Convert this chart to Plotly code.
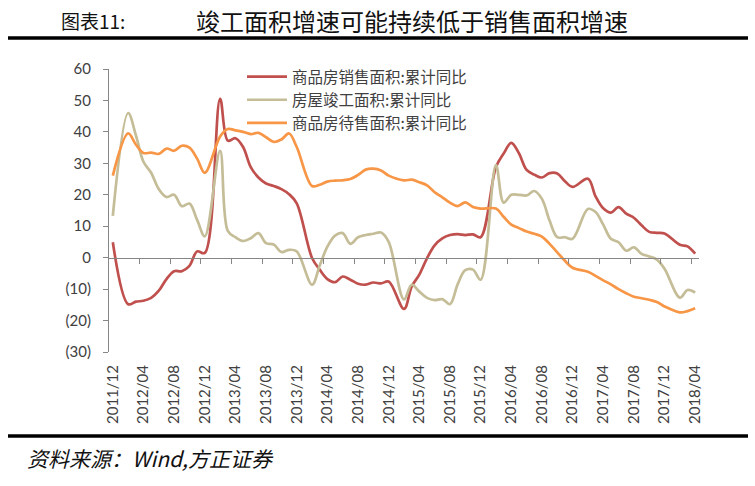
import plotly.graph_objects as go

# ---------------- data ----------------
dates = ["2011/12",
         "2012/02", "2012/03", "2012/04", "2012/05", "2012/06", "2012/07", "2012/08", "2012/09", "2012/10", "2012/11", "2012/12",
         "2013/02", "2013/03", "2013/04", "2013/05", "2013/06", "2013/07", "2013/08", "2013/09", "2013/10", "2013/11", "2013/12",
         "2014/02", "2014/03", "2014/04", "2014/05", "2014/06", "2014/07", "2014/08", "2014/09", "2014/10", "2014/11", "2014/12",
         "2015/02", "2015/03", "2015/04", "2015/05", "2015/06", "2015/07", "2015/08", "2015/09", "2015/10", "2015/11", "2015/12",
         "2016/02", "2016/03", "2016/04", "2016/05", "2016/06", "2016/07", "2016/08", "2016/09", "2016/10", "2016/11", "2016/12",
         "2017/02", "2017/03", "2017/04", "2017/05", "2017/06", "2017/07", "2017/08", "2017/09", "2017/10", "2017/11", "2017/12",
         "2018/02", "2018/03", "2018/04"]

sales_area = [4.9,
              -14.8, -14.0, -13.7, -12.8, -10.5, -6.8, -4.3, -4.3, -2.6, 2.0, 1.5,
              50.5, 37.2, 38.0, 35.2, 28.8, 25.5, 23.6, 22.8, 21.8, 20.2, 17.3,
              -0.1, -3.8, -6.8, -7.8, -6.0, -7.0, -8.3, -8.6, -7.9, -8.2, -7.6,
              -16.3, -9.2, -5.4, -0.2, 3.9, 6.1, 7.2, 7.5, 7.2, 7.4, 6.5,
              28.8, 33.1, 36.5, 33.2, 27.9, 26.4, 25.5, 26.9, 26.8, 24.3, 22.5,
              25.1, 19.5, 15.7, 14.3, 16.1, 14.0, 12.7, 10.3, 8.2, 7.9, 7.7,
              4.1, 3.6, 1.3]

completed_area = [13.3,
                  46.0, 39.0, 30.5, 27.0, 21.8, 19.3, 20.0, 16.4, 17.2, 12.0, 6.8,
                  34.0, 8.5, 6.5, 5.3, 6.2, 7.8, 4.6, 4.2, 1.8, 2.5, 2.0,
                  -8.6, -2.5, 3.5, 7.0, 7.8, 4.4, 6.5, 7.2, 7.6, 8.0, 5.0,
                  -13.3, -8.6, -10.8, -12.8, -13.5, -13.2, -14.8, -8.5, -4.0, -3.8, -7.0,
                  29.4, 17.5, 20.0, 20.0, 19.8, 21.2, 18.7, 11.8, 6.5, 6.5, 6.0,
                  15.5, 14.5, 10.5, 6.0, 4.9, 2.2, 3.3, 1.2, 0.4, -0.6, -3.5,
                  -12.7, -10.3, -11.1]

inventory_area = [26.1,
                  39.5, 36.0, 33.3, 33.4, 33.0, 34.7, 34.0, 35.6, 35.0, 31.5, 27.0,
                  38.5, 40.9, 40.5, 40.0, 39.3, 39.7, 38.3, 36.8, 37.6, 39.5, 35.2,
                  22.8, 23.2, 24.2, 24.5, 24.6, 25.0, 26.3, 28.0, 28.3, 27.7, 26.1,
                  24.6, 24.8, 24.0, 23.0, 20.8, 19.2, 17.5, 16.4, 17.6, 16.1, 15.6,
                  15.6, 13.0, 10.5, 9.4, 8.3, 7.6, 6.7, 4.4, 1.7, -1.0, -3.2,
                  -4.5, -5.8, -7.2, -8.5, -10.0, -11.3, -12.4, -12.9, -13.4, -14.1, -15.5,
                  -17.4, -17.0, -16.1]

series_names = ["商品房销售面积:累计同比", "房屋竣工面积:累计同比", "商品房待售面积:累计同比"]
series_colors = ["#C0504D", "#C4BD97", "#F79646"]

x_tick_labels = ["2011/12", "2012/04", "2012/08", "2012/12", "2013/04", "2013/08", "2013/12",
                 "2014/04", "2014/08", "2014/12", "2015/04", "2015/08", "2015/12", "2016/04",
                 "2016/08", "2016/12", "2017/04", "2017/08", "2017/12", "2018/04"]
y_tick_values = [60, 50, 40, 30, 20, 10, 0, -10, -20, -30]
y_tick_labels = ["60", "50", "40", "30", "20", "10", "0", "(10)", "(20)", "(30)"]

title_prefix = "图表11:"
title_text = "竣工面积增速可能持续低于销售面积增速"
source_text = "资料来源：Wind,方正证券"


def month_index(s):
    yy, mm = s.split("/")
    return (int(yy) - 2011) * 12 + int(mm) - 12


x_vals = [month_index(d) for d in dates]
x_tick_vals = [month_index(t) for t in x_tick_labels]
boundary_ticks = [v - 0.5 for v in x_tick_vals[1:]]
x_range = [x_vals[0] - 0.5, x_vals[-1] + 0.5]

# ---------------- figure ----------------
W, H = 755, 486
ML, MR, MT, MB = 109, 56, 69, 134
PW, PH = W - ML - MR, H - MT - MB


def px_x(px):
    return (px - ML) / PW


def px_y(py):
    return (H - MB - py) / PH


fig = go.Figure()
for name, vals, col in zip(series_names, [sales_area, completed_area, inventory_area], series_colors):
    fig.add_trace(go.Scatter(x=x_vals, y=vals, name=name, mode="lines",
                             line=dict(color=col, width=2.7, shape="spline", smoothing=1.0)))

# empty trace to host the zero-line axis with boundary ticks
fig.add_trace(go.Scatter(x=[], y=[], xaxis="x2", showlegend=False, hoverinfo="skip"))

axis_grey = "#868686"
label_col = "#404040"

rule_lines = [dict(type="line", xref="paper", yref="paper", layer="above",
                   x0=px_x(8), x1=px_x(748), y0=px_y(py), y1=px_y(py),
                   line=dict(color="black", width=3.5))
              for py in (38, 436)]

fig.update_layout(
    width=W, height=H, autosize=False,
    margin=dict(l=ML, r=MR, t=MT, b=MB),
    paper_bgcolor="white", plot_bgcolor="white",
    font=dict(family="Lato, 'Noto Sans CJK SC', sans-serif", color=label_col),
    xaxis=dict(range=x_range, tickmode="array", tickvals=x_tick_vals, ticktext=x_tick_labels,
               tickangle=-90, ticks="", showline=False, showgrid=False, zeroline=False,
               ticklabelstandoff=9, tickfont=dict(size=15, color=label_col, family="Lato")),
    xaxis2=dict(range=x_range, overlaying="x", anchor="free", position=(0 - (-30)) / 90,
                tickmode="array", tickvals=boundary_ticks, ticks="outside", ticklen=5,
                tickcolor=axis_grey, showticklabels=False, showline=True, linecolor=axis_grey,
                linewidth=1, showgrid=False, zeroline=False),
    yaxis=dict(range=[-30, 60], tickmode="array", tickvals=y_tick_values, ticktext=y_tick_labels,
               ticks="outside", ticklen=5, tickcolor=axis_grey, showline=True, linecolor=axis_grey,
               linewidth=1, showgrid=False, zeroline=False, ticklabelstandoff=9,
               tickfont=dict(size=15, color=label_col, family="Lato")),
    legend=dict(x=px_x(242), y=px_y(60), xanchor="left", yanchor="top",
                bgcolor="rgba(0,0,0,0)", borderwidth=0, itemwidth=40,
                font=dict(size=15.5, color=label_col, family="Noto Sans CJK SC")),
    showlegend=True,
    shapes=rule_lines,
)

fig.add_annotation(text=title_prefix, xref="paper", yref="paper", x=px_x(59), y=px_y(21),
                   xanchor="left", yanchor="middle", showarrow=False,
                   font=dict(size=19, color="#111111", family="Noto Sans CJK SC"))
fig.add_annotation(text=title_text, xref="paper", yref="paper", x=px_x(412), y=px_y(21),
                   xanchor="center", yanchor="middle", showarrow=False,
                   font=dict(size=24, color="#111111", family="Noto Sans CJK SC"))
fig.add_annotation(text="<i>" + source_text + "</i>", xref="paper", yref="paper", x=px_x(25), y=px_y(458),
                   xanchor="left", yanchor="middle", showarrow=False,
                   font=dict(size=21, color="#111111", family="Noto Sans CJK SC"))

fig.write_html("out.html", config={"displayModeBar": False},
               post_script="document.body.style.margin='0';")
